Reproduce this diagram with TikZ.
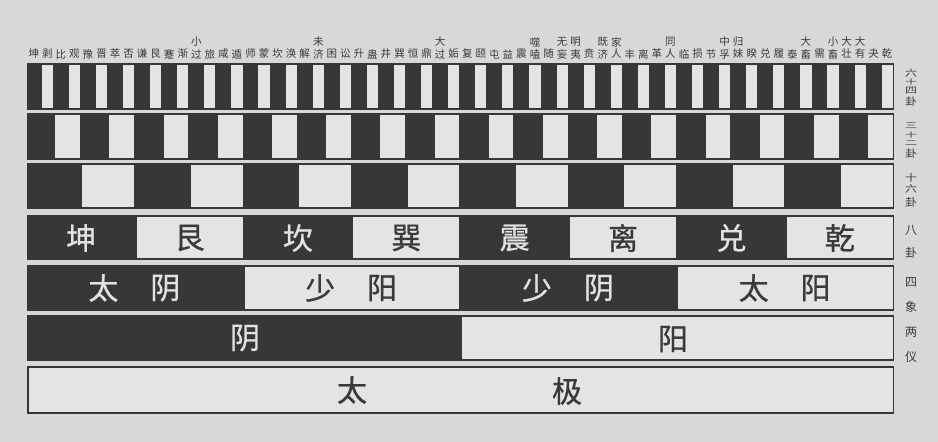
\documentclass[tikz,border=0pt]{standalone}
\usepackage{fontspec}
\newfontfamily\cjk{Noto Sans CJK SC}
\newfontfamily\cjkb[FakeBold=0.8]{Noto Sans CJK SC}
\definecolor{paper}{HTML}{D8D8D6}
\definecolor{lite}{HTML}{E4E4E2}
\definecolor{ink}{HTML}{373737}
\definecolor{txt}{HTML}{3A3A3A}
\definecolor{rev}{HTML}{E2E2E0}
\tikzset{
  tiny/.style={font=\cjk\fontsize{10.5}{11}\selectfont, text=txt, inner sep=0pt},
  side/.style={font=\cjk\fontsize{12}{12}\selectfont, text=txt, inner sep=0pt},
  big/.style={font=\cjkb\fontsize{30}{30}\selectfont, inner sep=0pt},
  ondark/.style={big, text=rev},
  onlite/.style={big, text=txt},
  darkcell/.style={fill=ink},
  litecell/.style={fill=lite}
}
\begin{document}
\begin{tikzpicture}[x=1pt,y=-1pt]
\fill[paper] (0,0) rectangle (938,442);
\useasboundingbox (0,0) rectangle (938,442);
% rows of bars
\foreach \n/\top/\bot in {64/63/110, 32/113/160, 16/163/209, 8/215/260, 4/265/311, 2/315/361}{
  \fill[darkcell] (27,\top) rectangle (894,\bot);
  \pgfmathsetmacro\w{867/\n}
  \pgfmathtruncatemacro\m{\n/2-1}
  \foreach \k in {0,...,\m}{
    \fill[litecell] ({27+(2*\k+1)*\w+1.2},{\top+2.2}) rectangle ({27+(2*\k+2)*\w-1.2},{\bot-2.2});
  }
}
\fill[darkcell] (27,366) rectangle (894,414);
\fill[litecell] (28.5,368) rectangle (892.5,412);
% hexagram names
\foreach \c [count=\i from 0] in {坤,剥,比,观,豫,晋,萃,否,谦,艮,蹇,渐,过,旅,咸,遁,师,蒙,坎,涣,解,济,困,讼,升,蛊,井,巽,恒,鼎,过,姤,复,颐,屯,益,震,嗑,随,妄,夷,贲,济,人,丰,离,革,人,临,损,节,孚,妹,睽,兑,履,泰,畜,需,畜,壮,有,夬,乾}{
  \node[tiny] (h\i) at ({27+(\i+0.5)*13.547},54) {\c};
}
\foreach \i/\c in {12/小,21/未,30/大,37/噬,39/无,40/明,42/既,43/家,47/同,51/中,52/归,57/大,59/小,60/大,61/大}{
  \node[tiny] (u\i) at ({27+(\i+0.5)*13.547},42) {\c};
}
% trigrams
\foreach \i/\c in {0/坤,2/坎,4/震,6/兑}{
  \node[ondark] (g\i) at ({27+(\i+0.5)*108.375},238) {\c};
}
\foreach \i/\c in {1/艮,3/巽,5/离,7/乾}{
  \node[onlite] (g\i) at ({27+(\i+0.5)*108.375},238) {\c};
}
% four images
\foreach \i/\a/\b in {0/太/阴,2/少/阴}{
  \node[ondark] (sa\i) at ({27+(\i+0.5)*216.75-32},288) {\a};
  \node[ondark] (sb\i) at ({27+(\i+0.5)*216.75+30},288) {\b};
}
\foreach \i/\a/\b in {1/少/阳,3/太/阳}{
  \node[onlite] (sa\i) at ({27+(\i+0.5)*216.75-32},288) {\a};
  \node[onlite] (sb\i) at ({27+(\i+0.5)*216.75+30},288) {\b};
}
% two modes
\node[ondark] (yin) at (245,338) {阴};
\node[onlite] (yang) at (673,339) {阳};
% great ultimate
\node[onlite] (tai) at (352,390) {太};
\node[onlite] (ji) at (567,391) {极};
% side labels (stacked, compressed where crowded)
\foreach \y/\c/\s [count=\j] in {73/六/0.75,82/十/0.55,91/四/0.7,102/卦/0.85,126/三/0.65,134.5/十/0.55,143/二/0.6,154/卦/0.85,178/十/0.8,189/六/0.8,202/卦/0.9,230/八/1,253/卦/1,282/四/1,307/象/1,332/两/1,357/仪/1}{
  \node[side, yscale=\s] (s\j) at (911,\y) {\c};
}
\end{tikzpicture}
\end{document}
